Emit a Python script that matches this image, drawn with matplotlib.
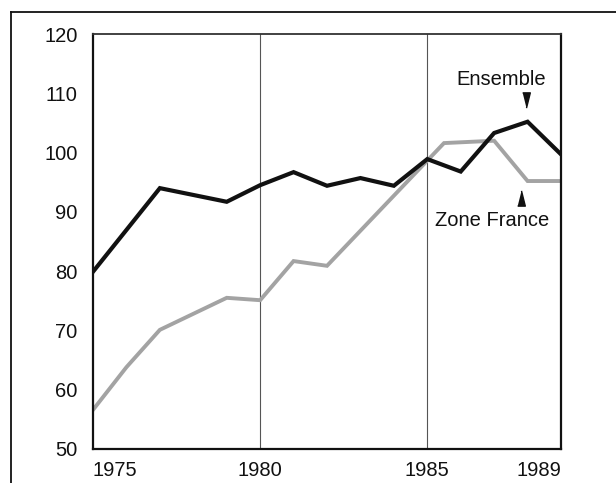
import matplotlib
matplotlib.use('Agg')
import matplotlib.pyplot as plt
from matplotlib.lines import Line2D

plt.rcParams['font.family'] = ['Liberation Sans', 'DejaVu Sans']

# Ensemble (black) series
years_ensemble = [1975, 1977, 1979, 1980, 1981, 1982, 1983, 1984, 1985, 1986, 1987, 1988, 1989]
ensemble = [79.9, 94.0, 91.7, 94.5, 96.7, 94.4, 95.7, 94.4, 98.9, 96.8, 103.3, 105.2, 99.7]

# Zone France (grey) series
years_zone = [1975, 1976, 1977, 1979, 1980, 1981, 1982, 1985.5, 1987, 1988, 1989]
zone_france = [56.6, 63.8, 70.1, 75.5, 75.1, 81.7, 80.9, 101.6, 102.0, 95.2, 95.2]

y_ticks = [50, 60, 70, 80, 90, 100, 110, 120]
x_ticks = [1975, 1980, 1985, 1989]
x_ticklabels = ['1975', '1980', '1985', '1989']
grid_years = [1980, 1985]

fig = plt.figure(figsize=(6.16, 4.83), dpi=100)
ax = fig.add_axes([93 / 616, 1 - 449 / 483, 468 / 616, 415 / 483])

for yr in grid_years:
    ax.axvline(yr, color='#555555', lw=0.8, zorder=1)

ax.plot(years_zone, zone_france, color='#a3a3a3', lw=2.8, solid_joinstyle='miter', zorder=2)
ax.plot(years_ensemble, ensemble, color='#111111', lw=3.0, solid_joinstyle='miter', zorder=3)

ax.set_xlim(1975, 1989)
ax.set_ylim(50, 120)
ax.set_yticks(y_ticks)
ax.set_xticks(x_ticks)
ax.set_xticklabels(x_ticklabels)
ax.tick_params(length=0, labelsize=14.5, colors='#111111')
ax.tick_params(axis='y', pad=11)
ax.tick_params(axis='x', pad=9)
labels = ax.get_xticklabels()
labels[0].set_ha('left')
labels[-1].set_ha('right')

for side in ['left', 'right', 'bottom']:
    ax.spines[side].set_linewidth(1.6)
    ax.spines[side].set_color('#111111')
ax.spines['top'].set_linewidth(1.3)
ax.spines['top'].set_color('#333333')

# labels with small triangles
tri_down = [(-0.5, 1), (0.5, 1), (0, -1)]
tri_up = [(-0.5, -1), (0.5, -1), (0, 1)]
ens_1988 = ensemble[years_ensemble.index(1988)]
zone_1988 = zone_france[years_zone.index(1988)]
ax.plot([1987.95], [ens_1988 + 3.7], marker=tri_down, color='#111111', ms=11, ls='none')
ax.text(1987.2, ens_1988 + 7.2, 'Ensemble', ha='center', va='center', fontsize=14.5, color='#111111')
ax.plot([1987.8], [zone_1988 - 2.9], marker=tri_up, color='#111111', ms=11, ls='none')
ax.text(1986.95, zone_1988 - 6.6, 'Zone France', ha='center', va='center', fontsize=14.5,
        color='#111111', bbox=dict(facecolor='white', edgecolor='none', pad=0.5))

# outer frame, cut by the picture edge at right and bottom
fx0, fy0 = 11 / 616, 1 - 12 / 483
fig.add_artist(Line2D([fx0, 1.0], [fy0, fy0], color='#111111', lw=1.3))
fig.add_artist(Line2D([fx0, fx0], [fy0, 0.0], color='#111111', lw=1.3))

fig.savefig('out.png', dpi=100)
